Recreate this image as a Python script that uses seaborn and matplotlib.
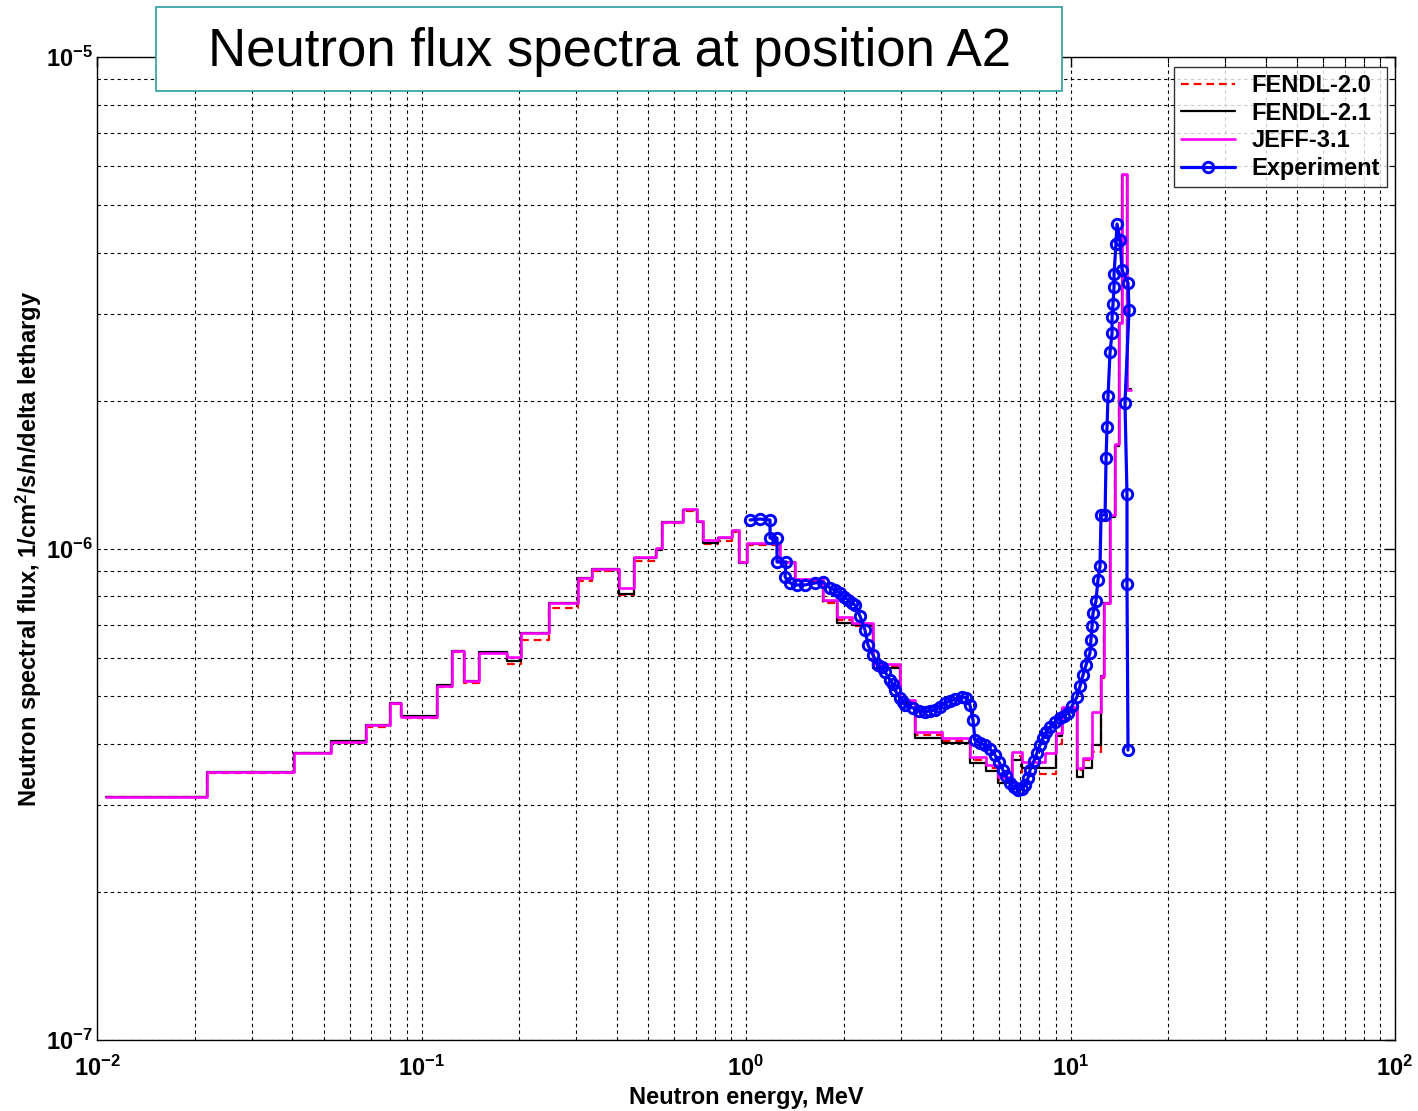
import numpy as np
import pandas as pd
import matplotlib
matplotlib.use("Agg")
import matplotlib.pyplot as plt
import seaborn as sns
from matplotlib.ticker import LogLocator, FuncFormatter, NullFormatter
from matplotlib.patches import Rectangle

# ---------------- data ----------------
# group boundaries (MeV) of the calculated spectra
edges = [0.01066, 0.02187, 0.04055, 0.05251, 0.0676, 0.07993, 0.08646, 0.1114, 0.1239, 0.1352,
         0.1504, 0.1831, 0.2022, 0.2476, 0.3041, 0.3345, 0.407, 0.4526, 0.5281, 0.5522,
         0.6382, 0.7049, 0.7386, 0.8217, 0.9073, 0.9515, 1.005, 1.273, 1.416, 1.731,
         1.903, 2.122, 2.468, 2.984, 3.318, 4.010, 4.900, 5.491, 5.992, 6.590,
         7.073, 8.344, 9.004, 9.396, 10.47, 10.95, 11.62, 12.42, 12.69, 13.24,
         13.71, 14.06, 14.41, 14.93, 15.36]

jeff31 = [3.12e-7, 3.515e-7, 3.83e-7, 4.03e-7, 4.37e-7, 4.85e-7, 4.55e-7, 5.25e-7, 6.19e-7, 5.37e-7,
          6.14e-7, 6.01e-7, 6.72e-7, 7.73e-7, 8.70e-7, 9.08e-7, 8.30e-7, 9.62e-7, 1.001e-6, 1.133e-6,
          1.202e-6, 1.139e-6, 1.041e-6, 1.057e-6, 1.090e-6, 9.40e-7, 1.025e-6, 9.40e-7, 8.67e-7, 7.86e-7,
          7.26e-7, 7.05e-7, 5.81e-7, 4.92e-7, 4.24e-7, 4.11e-7, 3.76e-7, 3.63e-7, 3.43e-7, 3.86e-7,
          3.67e-7, 3.83e-7, 4.21e-7, 4.77e-7, 3.57e-7, 3.75e-7, 4.65e-7, 5.50e-7, 7.75e-7, 1.17e-6,
          1.634e-6, 2.876e-6, 5.78e-6, 2.10e-6]

fendl21 = [3.12e-7, 3.515e-7, 3.83e-7, 4.05e-7, 4.38e-7, 4.85e-7, 4.57e-7, 5.27e-7, 6.19e-7, 5.37e-7,
           6.16e-7, 5.89e-7, 6.72e-7, 7.75e-7, 8.72e-7, 9.08e-7, 8.08e-7, 9.58e-7, 9.95e-7, 1.13e-6,
           1.198e-6, 1.133e-6, 1.025e-6, 1.052e-6, 1.083e-6, 9.36e-7, 1.02e-6, 9.38e-7, 8.64e-7, 7.82e-7,
           7.07e-7, 7.00e-7, 5.71e-7, 4.85e-7, 4.11e-7, 4.015e-7, 3.66e-7, 3.52e-7, 3.34e-7, 3.72e-7,
           3.57e-7, 3.57e-7, 4.16e-7, 4.72e-7, 3.43e-7, 3.58e-7, 3.98e-7, 5.50e-7, 7.75e-7, 1.16e-6,
           1.62e-6, 2.87e-6, 5.75e-6, 2.11e-6]

fendl20 = [3.12e-7, 3.50e-7, 3.83e-7, 4.02e-7, 4.33e-7, 4.83e-7, 4.52e-7, 5.23e-7, 6.15e-7, 5.33e-7,
           6.12e-7, 5.83e-7, 6.51e-7, 7.55e-7, 8.60e-7, 9.00e-7, 8.03e-7, 9.42e-7, 9.90e-7, 1.125e-6,
           1.19e-6, 1.13e-6, 1.02e-6, 1.035e-6, 1.08e-6, 9.40e-7, 1.015e-6, 9.35e-7, 8.60e-7, 7.75e-7,
           7.15e-7, 6.95e-7, 5.76e-7, 4.88e-7, 4.17e-7, 4.06e-7, 3.71e-7, 3.57e-7, 3.38e-7, 3.78e-7,
           3.48e-7, 3.48e-7, 4.00e-7, 4.70e-7, 3.55e-7, 3.72e-7, 3.85e-7, 5.45e-7, 7.70e-7, 1.16e-6,
           1.62e-6, 2.87e-6, 5.75e-6, 2.12e-6]

exp_energy = [1.029, 1.104, 1.186, 1.186, 1.246, 1.246, 1.328, 1.319, 1.366, 1.436,
              1.520, 1.632, 1.727, 1.815, 1.880, 1.949, 2.004, 2.062, 2.122, 2.167,
              2.245, 2.326, 2.377, 2.463, 2.552, 2.625, 2.682, 2.779, 2.838, 2.879,
              2.983, 3.046, 3.090, 3.270, 3.413, 3.561, 3.690, 3.823, 3.962, 4.105,
              4.253, 4.406, 4.630, 4.764, 4.900, 5.006, 5.078, 5.262, 5.451, 5.649,
              5.852, 6.022, 6.194, 6.328, 6.511, 6.697, 6.889, 7.088, 7.242, 7.396,
              7.503, 7.720, 7.884, 8.054, 8.227, 8.405, 8.647, 8.959, 9.282, 9.550,
              9.824, 10.11, 10.47, 10.70, 10.93, 11.16, 11.48, 11.56, 11.65, 11.73,
              11.98, 12.15, 12.33, 12.42, 12.78, 12.87, 12.96, 13.05, 13.24, 13.43,
              13.43, 13.52, 13.62, 13.62, 13.81, 13.91, 14.21, 14.41, 15.04, 15.15,
              14.72, 14.93, 14.93, 15.04]
exp_flux = [1.143e-6, 1.148e-6, 1.143e-6, 1.05e-6, 1.05e-6, 9.39e-7, 9.39e-7, 8.75e-7, 8.51e-7, 8.43e-7,
            8.43e-7, 8.51e-7, 8.55e-7, 8.31e-7, 8.23e-7, 8.12e-7, 7.97e-7, 7.86e-7, 7.74e-7, 7.67e-7,
            7.29e-7, 6.83e-7, 6.36e-7, 6.07e-7, 5.79e-7, 5.73e-7, 5.61e-7, 5.40e-7, 5.29e-7, 5.15e-7,
            4.96e-7, 4.88e-7, 4.80e-7, 4.74e-7, 4.67e-7, 4.65e-7, 4.67e-7, 4.69e-7, 4.76e-7, 4.85e-7,
            4.89e-7, 4.94e-7, 4.99e-7, 4.96e-7, 4.80e-7, 4.48e-7, 4.08e-7, 4.02e-7, 3.98e-7, 3.91e-7,
            3.80e-7, 3.68e-7, 3.54e-7, 3.44e-7, 3.33e-7, 3.27e-7, 3.23e-7, 3.24e-7, 3.30e-7, 3.41e-7,
            3.54e-7, 3.70e-7, 3.84e-7, 3.98e-7, 4.12e-7, 4.23e-7, 4.33e-7, 4.44e-7, 4.52e-7, 4.56e-7,
            4.63e-7, 4.78e-7, 4.99e-7, 5.25e-7, 5.53e-7, 5.79e-7, 6.13e-7, 6.51e-7, 6.96e-7, 7.39e-7,
            7.82e-7, 8.63e-7, 9.21e-7, 1.170e-6, 1.170e-6, 1.528e-6, 1.767e-6, 2.043e-6, 2.51e-6, 2.745e-6,
            2.958e-6, 3.144e-6, 3.405e-6, 3.62e-6, 4.17e-6, 4.575e-6, 4.24e-6, 3.69e-6, 3.47e-6, 3.06e-6,
            1.977e-6, 1.291e-6, 8.47e-7, 3.89e-7]

series_names = ["FENDL-2.0", "FENDL-2.1", "JEFF-3.1", "Experiment"]
x_label = "Neutron energy, MeV"
y_label = r"Neutron spectral flux, 1/cm$^{\mathbf{2}}$/s/n/delta lethargy"
title = "Neutron flux spectra at position A2"

# ---------------- style ----------------
sns.set_theme(style="white")
plt.rcParams["font.family"] = ["Liberation Sans", "DejaVu Sans"]
plt.rcParams["font.weight"] = "bold"
plt.rcParams["text.color"] = "black"
plt.rcParams["axes.labelcolor"] = "black"
plt.rcParams["xtick.color"] = "black"
plt.rcParams["ytick.color"] = "black"
plt.rcParams["mathtext.fontset"] = "custom"
plt.rcParams["mathtext.rm"] = "Liberation Sans:bold"
plt.rcParams["mathtext.bf"] = "Liberation Sans:bold"
plt.rcParams["mathtext.it"] = "Liberation Sans:bold"

W, H = 1418, 1111
fig = plt.figure(figsize=(W / 100, H / 100), dpi=100)
fig.patch.set_facecolor("white")
ax = fig.add_axes([97 / W, 1 - 1040 / H, 1298 / W, 983 / H])
ax.set_facecolor("white")


def step_df(vals):
    return pd.DataFrame({"E": edges, "flux": list(vals) + [vals[-1]]})


sns.lineplot(data=step_df(fendl20), x="E", y="flux", ax=ax, estimator=None, sort=False,
             drawstyle="steps-post", color="#ff0000", linewidth=1.6,
             linestyle=(0, (3.5, 2.2)), label=series_names[0], zorder=3)
sns.lineplot(data=step_df(fendl21), x="E", y="flux", ax=ax, estimator=None, sort=False,
             drawstyle="steps-post", color="black", linewidth=1.6,
             label=series_names[1], zorder=4)
sns.lineplot(data=step_df(jeff31), x="E", y="flux", ax=ax, estimator=None, sort=False,
             drawstyle="steps-post", color="#ff00ff", linewidth=1.9,
             label=series_names[2], zorder=5)
exp_df = pd.DataFrame({"E": exp_energy, "flux": exp_flux})
sns.lineplot(data=exp_df, x="E", y="flux", ax=ax, estimator=None, sort=False,
             color="#0000ff", linewidth=2.3, marker="o", markersize=7.5,
             markerfacecolor="none", markeredgecolor="#0000ff", markeredgewidth=2.1,
             label=series_names[3], zorder=6)

ax.set_xscale("log")
ax.set_yscale("log")
ax.set_xlim(1e-2, 1e2)
ax.set_ylim(1e-7, 1e-5)

ax.xaxis.set_major_locator(LogLocator(base=10, numticks=10))
ax.yaxis.set_major_locator(LogLocator(base=10, numticks=10))
ax.xaxis.set_minor_locator(LogLocator(base=10, subs=np.arange(2, 10), numticks=100))
ax.yaxis.set_minor_locator(LogLocator(base=10, subs=np.arange(2, 10), numticks=100))
fmt = FuncFormatter(lambda v, p: r"$\mathbf{10^{%d}}$" % int(round(np.log10(v))))
ax.xaxis.set_major_formatter(fmt)
ax.yaxis.set_major_formatter(fmt)
ax.xaxis.set_minor_formatter(NullFormatter())
ax.yaxis.set_minor_formatter(NullFormatter())

ax.grid(True, which="both", color="black", linestyle=(0, (3, 3)), linewidth=0.8)
ax.set_axisbelow(True)
ax.tick_params(which="both", direction="in", top=True, right=True, colors="black",
               labelcolor="black")
ax.tick_params(which="major", length=7, width=1, labelsize=17)
ax.tick_params(axis="x", which="major", pad=11)
ax.tick_params(axis="y", which="major", pad=3)
ax.tick_params(which="minor", length=4, width=0.8)
for s in ax.spines.values():
    s.set_color("black")
    s.set_linewidth(1.0)

ax.set_xlabel(x_label, fontsize=17, fontweight="bold", color="black", labelpad=4)
ax.set_ylabel(y_label, fontsize=17, fontweight="bold", color="black")
ax.yaxis.set_label_coords(-(97 - 44) / 1298, 0.5)

leg = ax.legend(loc="upper right", bbox_to_anchor=(0.994, 0.99), borderaxespad=0,
                fontsize=17, frameon=True, fancybox=False, edgecolor="black",
                handlelength=2.3, handletextpad=0.7, labelspacing=0.2, borderpad=0.3)
leg.get_frame().set_linewidth(1.0)
for t in leg.get_texts():
    t.set_fontweight("bold")
    t.set_color("black")

# title box
fig.add_artist(Rectangle((156 / W, 1 - 91 / H), (1062 - 156) / W, 84 / H,
                         transform=fig.transFigure, facecolor="white",
                         edgecolor="#2aa0a0", linewidth=1.2, zorder=10))
fig.text(609 / W, 1 - 52 / H, title, ha="center", va="center", fontsize=38,
         fontweight="normal", family=["Liberation Sans", "DejaVu Sans"], color="black",
         zorder=11)

fig.savefig("out.png", dpi=100, facecolor="white")
